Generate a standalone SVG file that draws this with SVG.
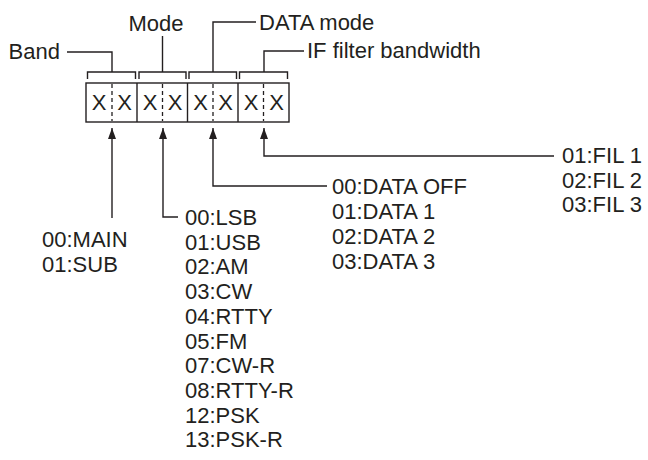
<svg xmlns="http://www.w3.org/2000/svg" width="648" height="460" viewBox="0 0 648 460">
<defs>
<marker id="ah" viewBox="0 0 11 8" refX="11" refY="4" markerWidth="11" markerHeight="8" markerUnits="userSpaceOnUse" orient="auto">
<path d="M0,0 L11,4 L0,8 Z" fill="#231f20"/>
</marker>
<style>
text{font-family:"Liberation Sans",Arial,sans-serif;font-size:22px;fill:#231f20}
.ln{fill:none;stroke:#231f20;stroke-width:1.4}
.dash{stroke:#231f20;stroke-width:1.3;stroke-dasharray:4,3}
</style>
</defs>
<rect width="648" height="460" fill="#fff"/>
<g id="register">
<rect x="86" y="83" width="203" height="39" class="ln"/>
<line x1="137" y1="83" x2="137" y2="122" class="ln"/>
<line x1="187.5" y1="83" x2="187.5" y2="122" class="ln"/>
<line x1="238" y1="83" x2="238" y2="122" class="ln"/>
<line x1="112" y1="84" x2="112" y2="121" class="dash"/>
<line x1="162.5" y1="84" x2="162.5" y2="121" class="dash"/>
<line x1="213" y1="84" x2="213" y2="121" class="dash"/>
<line x1="263.5" y1="84" x2="263.5" y2="121" class="dash"/>
<g text-anchor="middle">
<text x="99" y="110">X</text><text x="124.5" y="110">X</text>
<text x="150" y="110">X</text><text x="175" y="110">X</text>
<text x="200.5" y="110">X</text><text x="225.5" y="110">X</text>
<text x="251" y="110">X</text><text x="276.5" y="110">X</text>
</g>
<path class="ln" d="M87.5,79 V72 H135.5 V79 M139,79 V72 H186 V79 M189,79 V72 H236.5 V79 M239.5,79 V72 H287.5 V79"/>
</g>
<g id="band-label">
<text x="60" y="59" text-anchor="end">Band</text>
<path class="ln" d="M67,52 H112 V72"/>
</g>
<g id="mode-label">
<text x="156" y="31" text-anchor="middle">Mode</text>
<path class="ln" d="M162.5,36 V72"/>
</g>
<g id="data-mode-label">
<text x="259" y="30">DATA mode</text>
<path class="ln" d="M213,72 V22 H256"/>
</g>
<g id="if-label">
<text x="307" y="58">IF filter bandwidth</text>
<path class="ln" d="M264,72 V51 H304"/>
</g>
<g id="connectors">
<path class="ln" d="M112,218 V128" marker-end="url(#ah)"/>
<path class="ln" d="M178,217 H163 V128" marker-end="url(#ah)"/>
<path class="ln" d="M327,186 H213 V128" marker-end="url(#ah)"/>
<path class="ln" d="M554,156 H264 V128" marker-end="url(#ah)"/>
</g>
<g id="band-values">
<text x="42" y="247">00:MAIN</text>
<text x="42" y="271.5">01:SUB</text>
</g>
<g id="mode-values">
<text x="185" y="225">00:LSB</text>
<text x="185" y="249.7">01:USB</text>
<text x="185" y="274.4">02:AM</text>
<text x="185" y="299.1">03:CW</text>
<text x="185" y="323.8">04:RTTY</text>
<text x="185" y="348.5">05:FM</text>
<text x="185" y="373.2">07:CW-R</text>
<text x="185" y="397.9">08:RTTY-R</text>
<text x="185" y="422.6">12:PSK</text>
<text x="185" y="447.3">13:PSK-R</text>
</g>
<g id="data-values">
<text x="332" y="194">00:DATA OFF</text>
<text x="332" y="219">01:DATA 1</text>
<text x="332" y="244">02:DATA 2</text>
<text x="332" y="269">03:DATA 3</text>
</g>
<g id="fil-values">
<text x="562" y="163">01:FIL 1</text>
<text x="562" y="188">02:FIL 2</text>
<text x="562" y="212">03:FIL 3</text>
</g>
</svg>
